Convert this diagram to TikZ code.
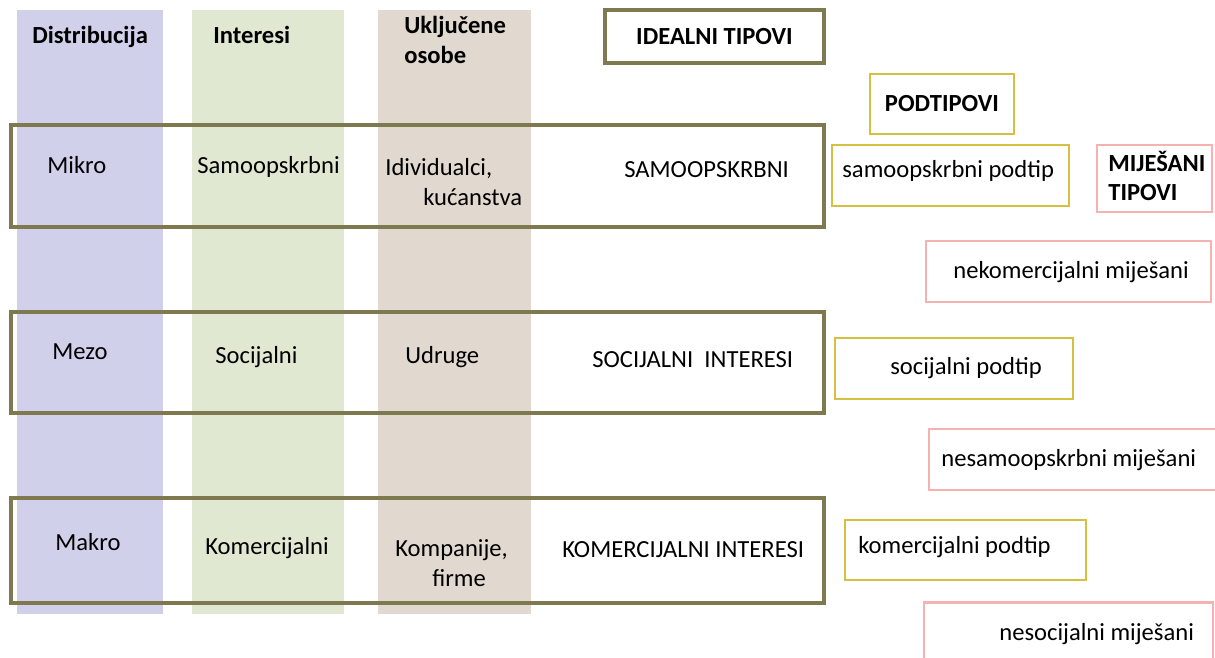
\documentclass[tikz,border=0pt]{standalone}
\usepackage{fontspec}
\setmainfont{Carlito}
\usetikzlibrary{positioning}
\definecolor{maslina}{RGB}{127,121,80}
\definecolor{zuta}{RGB}{214,192,64}
\definecolor{roza}{RGB}{244,178,178}
\definecolor{lavanda}{RGB}{208,208,234}
\definecolor{zelena}{RGB}{225,232,210}
\definecolor{bez}{RGB}{225,217,208}
\tikzset{
    %Define style for plain text
    tekst/.style={
           inner sep=0pt,
           anchor=mid west,
           font=\fontsize{14}{17}\selectfont},
    %Define style for headings
    naslov/.style={
           tekst,
           font=\fontsize{14}{17}\selectfont\bfseries},
    % Define box styles
    tip/.style={
           rectangle,
           draw=maslina, line width=2.3pt,
           inner sep=0pt},
    podtip/.style={
           rectangle,
           draw=zuta, line width=1.4pt,
           inner sep=0pt},
    mijesani/.style={
           rectangle,
           draw=roza, line width=1.2pt,
           inner sep=0pt}
}

\begin{document}
\begin{tikzpicture}[x=0.02cm, y=-0.02cm]
	\useasboundingbox (0,0) rectangle (1215,658);
	%
	% stupci
	%
	\fill[lavanda] (17,10) rectangle (163,614);
	\fill[zelena] (192,10) rectangle (344,614);
	\fill[bez] (378,10) rectangle (531,614);
	%
	% okviri
	%
	\node[tip, minimum width=16.26cm, minimum height=2.04cm] (mikrookvir) at (417.5,176) {};
	\node[tip, minimum width=16.26cm, minimum height=2.02cm] (mezookvir) at (417.5,362.5) {};
	\node[tip, minimum width=16.26cm, minimum height=2.1cm] (makrookvir) at (417.5,550.5) {};
	\node[tip, minimum width=4.38cm, minimum height=1.06cm, font=\fontsize{14}{17}\selectfont\bfseries] (ideal) at (714.5,36.5) {\raisebox{-2pt}{IDEALNI TIPOVI}};
	\node[podtip, minimum width=2.88cm, minimum height=1.2cm, font=\fontsize{14}{17}\selectfont\bfseries] (podtipovi) at (942,104) {PODTIPOVI};
	\node[mijesani, minimum width=2.3cm, minimum height=1.34cm] (mijesanitipovi) at (1154.5,178.5) {};
	\node[podtip, minimum width=4.74cm, minimum height=1.22cm] (samopod) at (950.5,175.5) {};
	\node[podtip, minimum width=4.76cm, minimum height=1.22cm] (socpod) at (954,368.5) {};
	\node[podtip, minimum width=4.82cm, minimum height=1.2cm] (komerpod) at (965.5,550) {};
	\node[mijesani, minimum width=5.7cm, minimum height=1.22cm] (nekomer) at (1068.5,271.5) {};
	\node[mijesani, minimum width=5.78cm, minimum height=1.22cm] (nesamo) at (1073.5,459.5) {};
	\node[mijesani, minimum width=5.78cm, minimum height=1.2cm] (nesoc) at (1068.5,632.5) {};
	%
	% naslovi
	%
	\node[naslov] (distribucija) at (32,39) {Distribucija};
	\node[naslov] (interesi) at (213,39) {Interesi};
	\node[naslov, anchor=west, align=left] (ukljucene) at (404,40) {Uključene\\osobe};
	\node[naslov, anchor=west, align=left] (mijesanitekst) at (1108,176) {MIJEŠANI\\TIPOVI};
	%
	% reci
	%
	\node[tekst] (mikro) at (47,169) {Mikro};
	\node[tekst] (samoopskrbni) at (197,169) {Samoopskrbni};
	\node[tekst, anchor=west, align=left, font=\fontsize{14}{17.5}\selectfont] (individualci) at (385,182) {Idividualci,\\\hspace*{0.76cm}kućanstva};
	\node[tekst] (samotip) at (624,173) {SAMOOPSKRBNI};
	\node[tekst] (mezo) at (52,355) {Mezo};
	\node[tekst] (socijalni) at (215,359) {Socijalni};
	\node[tekst] (udruge) at (405,359) {Udruge};
	\node[tekst] (soctip) at (592,363) {SOCIJALNI\ \ INTERESI};
	\node[tekst] (makro) at (55,546) {Makro};
	\node[tekst] (komercijalni) at (205,550) {Komercijalni};
	\node[tekst, anchor=west, align=left, font=\fontsize{14}{17.5}\selectfont] (kompanije) at (395,563) {Kompanije,\\\hspace*{0.74cm}firme};
	\node[tekst] (komertip) at (562,553) {KOMERCIJALNI INTERESI};
	%
	% podtipovi i mijesani
	%
	\node[tekst] (samopodtekst) at (842,173) {samoopskrbni podtip};
	\node[tekst] (socpodtekst) at (890,370) {socijalni podtip};
	\node[tekst] (komerpodtekst) at (858,549) {komercijalni podtip};
	\node[tekst] (nekomertekst) at (953,274) {nekomercijalni miješani};
	\node[tekst] (nesamotekst) at (941,462) {nesamoopskrbni miješani};
	\node[tekst] (nesoctekst) at (999,636) {nesocijalni miješani};
\end{tikzpicture}
\end{document}
